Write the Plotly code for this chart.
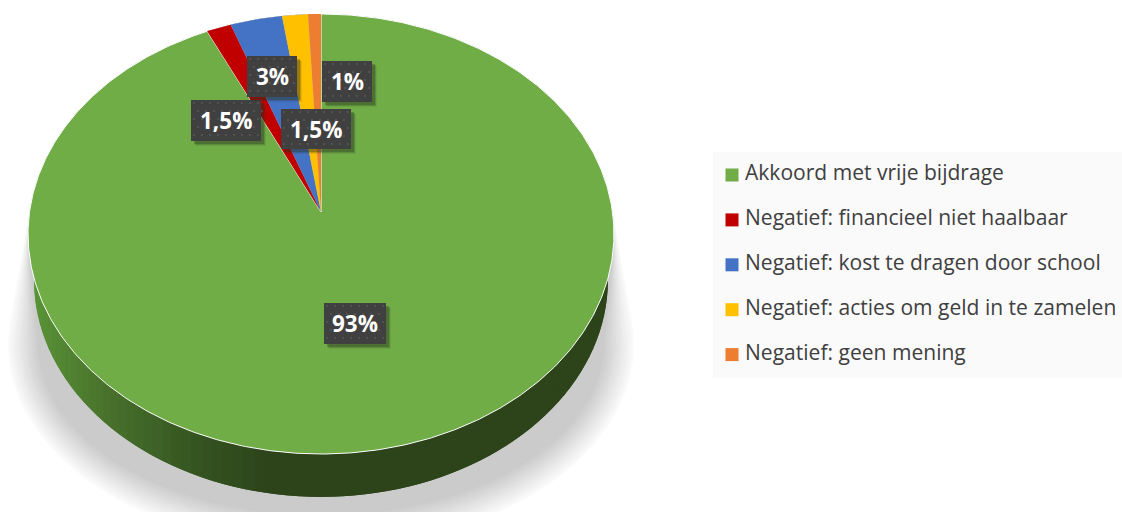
import numpy as np
import plotly.graph_objects as go

categories = ["Akkoord met vrije bijdrage", "Negatief: financieel niet haalbaar",
              "Negatief: kost te dragen door school", "Negatief: acties om geld in te zamelen",
              "Negatief: geen mening"]
values = [93, 1.5, 3.15, 1.57, 0.78]
labels = ["93%", "1,5%", "3%", "1,5%", "1%"]
colors = ["#70AD47", "#C00000", "#4472C4", "#FFC000", "#ED7D31"]

# label box left, top, right, bottom (pixels of the picture)
label_boxes = [(324, 303, 386, 344), (191, 100, 261, 141), (247, 56, 297, 97),
               (281, 109, 351, 149), (322, 61, 372, 102)]

W, H = 1122, 512
APEX = (321.0, 212.0)
K, A, B = 0.1, 217.8, 291.5


def project(theta):
    """theta: clockwise from 12 o'clock on the pie disc -> picture coordinates"""
    u, v = np.sin(theta), np.cos(theta)
    d = 1 + K * v
    return APEX[0] + B * u / d, APEX[1] - A * v / d


def hull(px, py):
    pts = sorted(set(zip(np.round(px, 2).tolist(), np.round(py, 2).tolist())))

    def half(seq):
        out = []
        for p in seq:
            while len(out) > 1 and ((out[-1][0] - out[-2][0]) * (p[1] - out[-2][1])
                                    - (out[-1][1] - out[-2][1]) * (p[0] - out[-2][0])) <= 0:
                out.pop()
            out.append(p)
        return out
    h = half(pts)[:-1] + half(pts[::-1])[:-1]
    return [p[0] for p in h] + [h[0][0]], [p[1] for p in h] + [h[0][1]]


def mix(c1, c2, t):
    return "rgb(%d,%d,%d)" % tuple(round(a + (b - a) * t) for a, b in zip(c1, c2))


fig = go.Figure()


def poly(x, y, color, line=None, lw=0):
    fig.add_trace(go.Scatter(x=list(x), y=list(y), mode="lines", fill="toself", fillcolor=color,
                             line=dict(color=line or color, width=lw), hoverinfo="skip",
                             showlegend=False))


# drop shadow: soft layers, widening downward from the disc edge
circle = np.linspace(0, 2 * np.pi, 361)
tx, ty = project(circle)
n_layers = 14
for i in range(n_layers):
    t = i / (n_layers - 1)
    rx = 313 - 30 * t
    ry = 203 - 32 * t
    ex = 321 + rx * np.sin(circle)
    ey = 345 + ry * np.cos(circle)
    hx, hy = hull(np.r_[tx, ex], np.r_[ty, ey])
    poly(hx, hy, mix((250, 250, 250), (203, 203, 203), t))

# side wall of the disc, shaded strip by strip (each strip overlaps the next)
BOT_CX, BOT_CY, BOT_RX, BOT_RY = 321.0, 280.0, 287.0, 217.0
stops = [(30, (90, 150, 55)), (110, (72, 112, 44)), (200, (52, 84, 32)),
         (265, (45, 68, 27)), (614, (45, 68, 27))]
stops_x = [s[0] for s in stops]
phi = np.linspace(-np.pi * 0.56, np.pi * 0.56, 91)   # left to right along the front
for j in range(len(phi) - 1):
    a0, a1 = phi[j], phi[min(j + 2, len(phi) - 1)]
    seg = np.linspace(a0, a1, 5)
    bx = BOT_CX + BOT_RX * np.sin(seg)
    by = BOT_CY + BOT_RY * np.cos(seg)
    ux, uy = bx, by - 60    # upper edge is hidden behind the top surface drawn next
    mid = BOT_CX + BOT_RX * np.sin((phi[j] + phi[j + 1]) / 2)
    rgb = [np.interp(mid, stops_x, [s[1][k] for s in stops]) for k in range(3)]
    col = "rgb(%d,%d,%d)" % tuple(round(c) for c in rgb)
    poly(np.r_[bx, ux[::-1], bx[0]], np.r_[by, uy[::-1], by[0]], col)

# top surface: slices run clockwise from 12 o'clock
start = 0.0
total = sum(values)
for val, col, i in zip(values, colors, range(len(values))):
    end = start + val / total * 2 * np.pi
    th = np.linspace(start, end, max(4, int(val * 6)))
    x, y = project(th)
    poly(np.r_[APEX[0], x, APEX[0]], np.r_[APEX[1], y, APEX[1]], col,
         "#ffffff" if i == 0 else col, 1 if i == 0 else 0)
    start = end

# label boxes with shadow and dotted texture
annotations = []
for text, (l, t, r, b) in zip(labels, label_boxes):
    for off, c in ((5, "rgba(40,50,30,0.10)"), (4, "rgba(40,50,30,0.18)"), (3, "rgba(40,50,30,0.30)")):
        poly([l + off, r + off, r + off, l + off, l + off],
             [t + off, t + off, b + off, b + off, t + off], c)
    poly([l, r, r, l, l], [t, t, b, b, t], "#404040")
    dx, dy = np.meshgrid(np.arange(l + 3, r, 8), np.arange(t + 3, b, 8))
    dx = dx.astype(float)
    dx[1::2] += 4
    fig.add_trace(go.Scatter(x=dx.ravel(), y=dy.ravel(), mode="markers", hoverinfo="skip",
                             marker=dict(size=1.8, color="#5c5c5c"), showlegend=False))
    annotations.append(dict(x=(l + r) / 2, y=(t + b) / 2, text=text, showarrow=False,
                            font=dict(family="Open Sans", size=22.5, color="#ffffff", weight="bold")))

# legend panel and entries
LEG_Y0, LEG_DY = 175, 44.9
leg_y = [LEG_Y0 + LEG_DY * i for i in range(len(categories))]
fig.add_trace(go.Scatter(x=[732] * 5, y=leg_y, mode="markers", hoverinfo="skip", showlegend=False,
                         marker=dict(symbol="square", size=13, color=colors)))
fig.add_trace(go.Scatter(x=[745] * 5, y=leg_y, mode="text", text=categories, hoverinfo="skip",
                         textposition="middle right", showlegend=False,
                         textfont=dict(family="Open Sans", size=21.05, color="#404040")))

fig.update_layout(
    width=W, height=H, margin=dict(l=0, r=0, t=0, b=0),
    paper_bgcolor="#ffffff", plot_bgcolor="#ffffff", showlegend=False,
    xaxis=dict(range=[0, W], visible=False, fixedrange=True),
    yaxis=dict(range=[H, 0], visible=False, fixedrange=True),
    annotations=annotations,
    shapes=[dict(type="rect", xref="x", yref="y", x0=713, x1=1122, y0=152, y1=378,
                 fillcolor="#FAFAFA", line=dict(width=0), layer="below")],
)
fig.write_html("out.html", config=dict(displayModeBar=False),
               post_script="document.body.style.margin='0';document.documentElement.style.overflow='hidden';")
